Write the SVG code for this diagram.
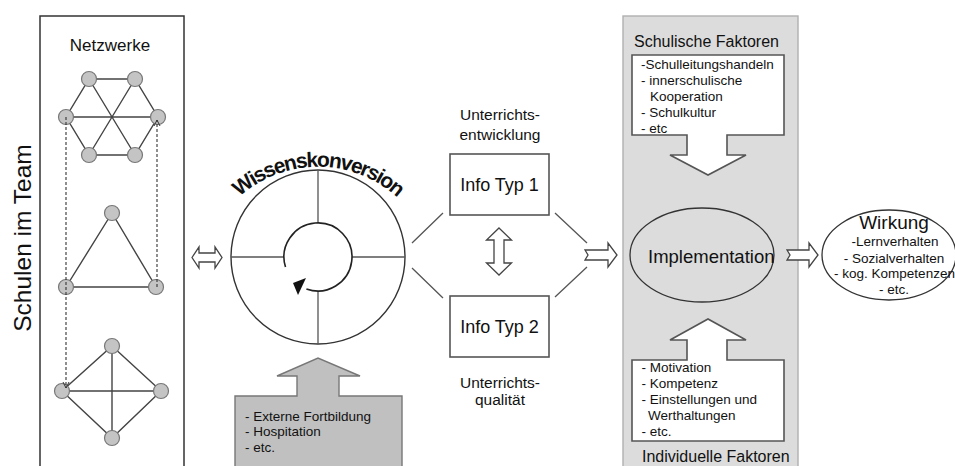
<svg xmlns="http://www.w3.org/2000/svg" width="955" height="466" viewBox="0 0 955 466">
<defs>
<style>
text{font-family:"Liberation Sans",Arial,sans-serif;fill:#111}
.edge{stroke:#444;stroke-width:1.4;fill:none}
.dash{stroke:#333;stroke-width:1.1;stroke-dasharray:3,2;fill:none}
.nd{fill:#c4c4c4;stroke:#777;stroke-width:1.2}
.hollow{fill:#fff;stroke:#444;stroke-width:1.3}
.box{fill:#fff;stroke:#555;stroke-width:1.6}
.lst{font-size:13.5px}
.thin{stroke:#555;stroke-width:1.3;fill:none}
</style>
<marker id="v" viewBox="0 0 8 8" refX="7" refY="4" markerWidth="8" markerHeight="8" markerUnits="userSpaceOnUse" orient="auto">
<path d="M1,1 L7,4 L1,7" fill="none" stroke="#333" stroke-width="1"/>
</marker>
<path id="arcText" d="M214,229 A118,118 0 0 1 422,229"/>
</defs>

<g id="schulen-im-team">
<rect x="40" y="16" width="144" height="460" fill="#fff" stroke="#333" stroke-width="1.5"/>
<text x="110" y="51" font-size="17" text-anchor="middle">Netzwerke</text>
<text transform="translate(31,238) rotate(-90)" font-size="24.5" text-anchor="middle">Schulen im Team</text>
</g>

<g id="netz-hexagon">
<path class="edge" d="M89,79 L135,79 L158,117 L135,155 L89,155 L66,117 Z M66,117 L158,117 M89,79 L135,155 M135,79 L89,155"/>
<circle class="nd" cx="89" cy="79" r="7.5"/><circle class="nd" cx="135" cy="79" r="7.5"/>
<circle class="nd" cx="66" cy="117" r="7.5"/><circle class="nd" cx="158" cy="117" r="7.5"/>
<circle class="nd" cx="89" cy="155" r="7.5"/><circle class="nd" cx="135" cy="155" r="7.5"/>
</g>

<g id="netz-dreieck">
<path class="edge" d="M112,213 L66,287 L156,287 Z"/>
<circle class="nd" cx="112" cy="213" r="7.5"/><circle class="nd" cx="66" cy="287" r="7.5"/><circle class="nd" cx="156" cy="287" r="7.5"/>
</g>

<g id="netz-raute">
<path class="edge" d="M112,346 L161,391 L112,438 L62,391 Z M62,391 L161,391 M112,346 L112,438"/>
<circle class="nd" cx="112" cy="346" r="7.5"/><circle class="nd" cx="62" cy="391" r="7.5"/>
<circle class="nd" cx="161" cy="391" r="7.5"/><circle class="nd" cx="112" cy="438" r="7.5"/>
</g>

<g id="wissenskonversion">
<circle cx="318" cy="257" r="87" fill="#fff" stroke="#333" stroke-width="1.4"/>
<path class="thin" d="M231,257 L284,257 M352,257 L405,257 M318,170 L318,223 M318,291 L318,344"/>
<path d="M285.5,267 A34,34 0 1 1 306.4,288.9" fill="none" stroke="#222" stroke-width="1.6"/>
<polygon points="293,283 306,278 298,295" fill="#111"/>
<text font-size="21" font-weight="bold" letter-spacing="-1.5"><textPath href="#arcText" startOffset="50%" text-anchor="middle">Wissenskonversion</textPath></text>
</g>

<g id="externe-faktoren">
<path d="M235,396 L297,396 L297,376 L277,376 L318,358 L360,376 L339,376 L339,396 L402,396 L402,480 L235,480 Z" fill="#c0c0c0" stroke="#777" stroke-width="1.4"/>
<text class="lst" x="245" y="421">- Externe Fortbildung</text>
<text class="lst" x="245" y="436">- Hospitation</text>
<text class="lst" x="245" y="451.5">- etc.</text>
</g>

<g id="info-typ-1">
<rect class="box" x="450" y="154" width="99" height="61"/>
<text x="499.5" y="191" font-size="18" text-anchor="middle">Info Typ 1</text>
<text x="500" y="120" font-size="15.5" text-anchor="middle">Unterrichts-</text>
<text x="500" y="140" font-size="15.5" text-anchor="middle">entwicklung</text>
</g>

<g id="info-typ-2">
<rect class="box" x="450" y="296" width="99" height="61"/>
<text x="499.5" y="333" font-size="18" text-anchor="middle">Info Typ 2</text>
<text x="500" y="388" font-size="15.5" text-anchor="middle">Unterrichts-</text>
<text x="500" y="405" font-size="15.5" text-anchor="middle">qualität</text>
</g>

<g id="faktoren-panel">
<rect x="623" y="16" width="175" height="470" fill="#dcdcdc" stroke="#b0b0b0" stroke-width="1.4"/>
<text x="634" y="47" font-size="16">Schulische Faktoren</text>
<text x="642" y="461.5" font-size="16">Individuelle Faktoren</text>
</g>

<g id="schulische-faktoren">
<path class="box" d="M632,55 L784,55 L784,135 L727,135 L727,155 L746,155 L708,175 L670,155 L687,155 L687,135 L632,135 Z"/>
<text class="lst" x="641" y="69">-Schulleitungshandeln</text>
<text class="lst" x="641" y="85">- innerschulische</text>
<text class="lst" x="650" y="101">Kooperation</text>
<text class="lst" x="641" y="117">- Schulkultur</text>
<text class="lst" x="641" y="132.5">- etc</text>
</g>

<g id="individuelle-faktoren">
<path class="box" d="M632,360 L687,360 L687,340 L670,340 L708,319 L746,340 L727,340 L727,360 L784,360 L784,441 L632,441 Z"/>
<text class="lst" x="641.5" y="371.5">- Motivation</text>
<text class="lst" x="641.5" y="388">- Kompetenz</text>
<text class="lst" x="641.5" y="404">- Einstellungen und</text>
<text class="lst" x="648" y="419.5">Werthaltungen</text>
<text class="lst" x="641.5" y="436">- etc.</text>
</g>

<g id="implementation">
<ellipse cx="702" cy="255" rx="72" ry="47" fill="#dcdcdc" stroke="#333" stroke-width="1.3"/>
<text x="648" y="263" font-size="18.5">Implementation</text>
</g>

<g id="wirkung">
<ellipse cx="889" cy="255" rx="67" ry="45" fill="#fff" stroke="#333" stroke-width="1.3"/>
<text x="894" y="228.5" font-size="19" text-anchor="middle">Wirkung</text>
<text class="lst" x="895" y="245.5" text-anchor="middle">-Lernverhalten</text>
<text class="lst" x="894" y="262.5" text-anchor="middle">- Sozialverhalten</text>
<text class="lst" x="894.5" y="278" text-anchor="middle">- kog. Kompetenzen</text>
<text class="lst" x="894" y="294" text-anchor="middle">- etc.</text>
</g>

<g id="connectors">
<path class="dash" d="M66,117 L66,388" marker-end="url(#v)"/>
<path class="dash" d="M157,287 L157,120" marker-end="url(#v)"/>
<path class="thin" d="M412,243 L443,213 M412,268 L443,298 M555,213 L587,243 M555,297 L587,267"/>
<path class="hollow" d="M192,257.5 L199,247 L199,253 L215,253 L215,247 L222,257.5 L215,268 L215,262 L199,262 L199,268 Z"/>
<path class="hollow" d="M499,228 L511.5,240 L504,240 L504,263 L511.5,263 L499,275 L486.5,263 L494,263 L494,240 L486.5,240 Z"/>
<path class="hollow" d="M585,250 L608,250 L608,243 L617,255 L608,267 L608,260 L585,260 L588,255 Z"/>
<path class="hollow" d="M787,250 L809,250 L809,243 L818,255 L809,267 L809,260 L787,260 L790,255 Z"/>
</g>
</svg>
